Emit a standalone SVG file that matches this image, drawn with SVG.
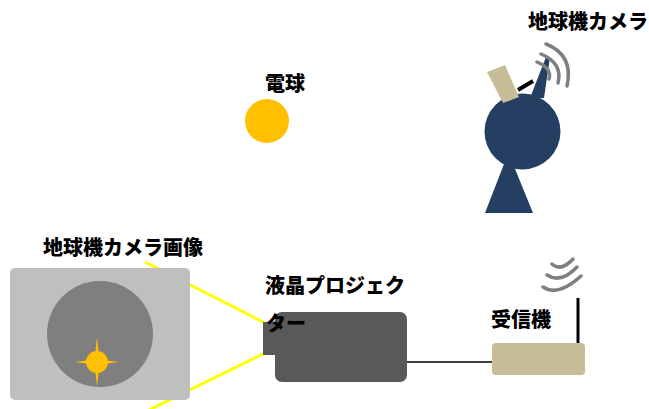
<svg xmlns="http://www.w3.org/2000/svg" width="649" height="409" viewBox="0 0 649 409">
  <style>
    .lbl { font-family: "Noto Sans CJK JP", "Noto Sans CJK SC", sans-serif; font-weight: 900; font-size: 20px; fill: #000; }
    .ray { stroke: #FFFF00; stroke-width: 3; fill: none; }
    .wave { stroke: #7F7F7F; stroke-width: 3.5; fill: none; stroke-linecap: round; }
    .sun { fill: #FFC000; }
    .navy { fill: #243F61; }
    .tan { fill: #C7BD96; }
  </style>
  <rect width="649" height="409" fill="#FFFFFF"/>

  <!-- projection rays and cable -->
  <g id="connectors">
    <line class="ray" x1="145" y1="262" x2="265" y2="323"/>
    <line class="ray" x1="265" y1="353" x2="143" y2="413"/>
    <line x1="405" y1="362" x2="492" y2="362" stroke="#000" stroke-width="1.5"/>
  </g>

  <!-- light bulb -->
  <g id="bulb">
    <circle class="sun" cx="267" cy="121" r="22"/>
    <text class="lbl" x="265" y="91">電球</text>
  </g>

  <!-- earth station camera -->
  <g id="camera">
    <polygon class="navy" points="504,164 513,164 533,213 485,213"/>
    <circle class="navy" cx="522.5" cy="131.5" r="38"/>
    <polygon class="navy" points="530,98 544,98 550,57 546,57"/>
    <line x1="518" y1="90" x2="533" y2="81" stroke="#000" stroke-width="4"/>
    <polygon class="tan" points="487,72 505,65 519,97 503,103"/>
    <path class="wave" d="M537,62 Q552,68 549,79"/>
    <path class="wave" d="M541,54 Q563,63 558,83"/>
    <path class="wave" d="M546,44 Q574,55 567,86"/>
    <text class="lbl" x="528" y="29">地球機カメラ</text>
  </g>

  <!-- camera image panel -->
  <g id="image">
    <rect x="10" y="268" width="180" height="132" rx="5" fill="#BFBFBF"/>
    <circle cx="100" cy="334" r="53" fill="#7F7F7F"/>
    <path class="sun" d="M97,337.5 L99.5,359.5 L119,362 L99.5,364.5 L97,386.5 L94.5,364.5 L75,362 L94.5,359.5 Z"/>
    <circle class="sun" cx="97" cy="362" r="11"/>
    <text class="lbl" x="43" y="255">地球機カメラ画像</text>
  </g>

  <!-- LCD projector -->
  <g id="projector">
    <rect x="275" y="312" width="132" height="70" rx="7" fill="#595959"/>
    <rect x="263" y="322" width="14" height="33" fill="#595959"/>
    <text class="lbl" x="265" y="293">液晶プロジェク</text>
    <text class="lbl" x="266" y="331">ター</text>
  </g>

  <!-- receiver -->
  <g id="receiver">
    <line x1="578" y1="298" x2="578" y2="344" stroke="#000" stroke-width="3"/>
    <rect class="tan" x="492" y="343" width="93" height="32" rx="4"/>
    <path class="wave" d="M552,264 Q561,272 573,259"/>
    <path class="wave" d="M547,275 Q561,284 577,267"/>
    <path class="wave" d="M543,287 Q558,297 581,276"/>
    <text class="lbl" x="491" y="327">受信機</text>
  </g>
</svg>
